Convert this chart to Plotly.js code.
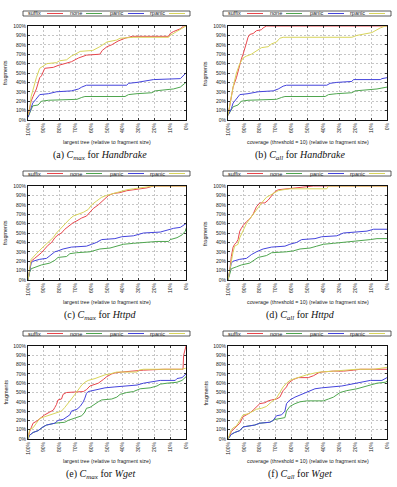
<!DOCTYPE html>
<html>
<head>
<meta charset="utf-8">
<script src="https://cdn.plot.ly/plotly-3.0.1.min.js"></script>
<style>
  html, body { margin: 0; padding: 0; background: #fff; }
  #chart { width: 397px; height: 487px; }
</style>
</head>
<body>
<div id="chart"></div>
<script>
// Cumulative share of fragments (y, %) against size threshold (x, % of fragment size).
// Each series is a list of [threshold %, fragments %] points.

const seriesNames = ['suffix', 'none', 'panic', 'rpanic'];
const xTicks = [100, 90, 80, 70, 60, 50, 40, 30, 20, 10, 0];
const yTicks = [0, 10, 20, 30, 40, 50, 60, 70, 80, 90, 100];

// (a) C_max, Handbrake
const cmaxHandbrakeSuffix = [[100,5],[98,20],[96.8,25],[94.7,33],[92.6,45],[91.5,47],[89.4,55],[84,56],[81,58],[75.6,61],[72.5,62],[68,66],[66,67],[63,69],[54.5,70],[53,74],[50,78],[47,80],[43,84],[38.6,87],[34,89],[11,89],[10,92],[8,94],[3.6,97],[1.5,100],[0,100]];
const cmaxHandbrakeNone = [[100,3],[98,12],[97,15],[93.6,16],[91.5,20],[87,21],[69,22],[66,24],[64,25],[38.6,25],[36.4,27],[31,28],[21.6,29],[19.5,31],[12,32],[8,33],[3.6,35],[0.4,40],[0,40]];
const cmaxHandbrakePanic = [[100,3],[98,13],[97,18],[95,22],[92.6,27],[87,28],[82,30],[72.5,31],[68,33],[66,35],[63,37],[37.5,37],[36.4,39],[31,40],[20.6,43],[3.6,44],[2.5,46],[0.4,50],[0,50]];
const cmaxHandbrakeRpanic = [[100,5],[99,10],[98,25],[96,38],[94.7,45],[92.6,55],[90.5,57],[88,60],[82,61],[80,63],[75.6,64],[72.5,68],[69,71],[67,73],[59,74],[54.5,78],[50,83],[44,85],[41.7,87],[33,88],[11,88],[10,90],[6,94],[1.5,98],[0,100]];

// (b) C_all, Handbrake
const callHandbrakeSuffix = [[100,5],[97.9,25],[96.8,35],[94.7,45],[93.7,52],[92.6,60],[91.6,65],[90.5,70],[89.5,75],[88.4,82],[87.4,88],[86.3,91],[84.2,92],[82.1,95],[79,96],[77.9,98],[75.8,100],[0,100]];
const callHandbrakeNone = [[100,5],[97.9,12],[96.8,14],[93.7,16],[91.6,20],[87.4,21],[69.5,22],[66.3,24],[64.2,25],[38.9,25],[36.8,27],[31.6,28],[22.1,29],[20,31],[10.5,32],[6.3,33],[3.2,34],[0,35]];
const callHandbrakePanic = [[100,5],[97.9,12],[96.8,18],[94.7,22],[92.6,27],[87.4,28],[81.1,30],[71.6,31],[68.4,33],[65.3,36],[63.2,37],[37.9,37],[35.8,39],[31.6,40],[22.1,41],[21.1,43],[4.2,43],[3.2,44],[0,45]];
const callHandbrakeRpanic = [[100,5],[97.9,25],[96.8,35],[94.7,50],[92.6,60],[90.5,66],[88.4,68],[85.3,70],[81.1,74],[78.9,77],[74.7,78],[72.6,81],[69.5,83],[67.4,87],[65.3,88],[22.1,88],[18.9,90],[12.6,92],[9.5,93],[6.3,96],[4.2,98],[1.1,100],[0,100]];

// (c) C_max, Httpd
const cmaxHttpdSuffix = [[100,0],[99,10],[98,20],[95.8,23],[93.6,26],[91.5,29],[89.4,33],[87.3,37],[85,40],[83,45],[81,48],[78.8,50],[76.7,54],[73.5,58],[71.4,61],[69,63],[66,66],[63,68],[60.8,72],[58.7,76],[55.5,80],[53.4,83],[51.3,86],[49,90],[46,92],[41.7,93],[37.5,95],[33,96],[29,97],[24.8,98],[20.6,100],[0,100]];
const cmaxHttpdNone = [[100,0],[99,8],[98,12],[94.7,14],[91.5,16],[86.2,18],[83,21],[81,24],[75.6,25],[73.5,28],[69.3,29],[60.8,30],[58.7,31],[54.5,33],[48.1,34],[43.8,36],[39.6,38],[33.3,39],[26.9,40],[18.4,41],[11,41],[10,43],[5.7,45],[2.5,48],[0.4,52],[0,55]];
const cmaxHttpdPanic = [[100,0],[99,10],[98,18],[96.8,20],[92.6,22],[88.3,23],[85,27],[83,30],[81,31],[77.8,33],[72.5,35],[63,36],[59.7,38],[56.6,40],[53.4,43],[45,44],[40.7,46],[33.3,47],[26.9,50],[16.3,51],[12,53],[7.8,55],[3.6,56],[1.5,58],[0,60]];
const cmaxHttpdRpanic = [[100,0],[99,10],[98,22],[94.7,28],[92.6,32],[90.5,35],[87.3,40],[84.1,45],[82,50],[79.9,54],[77.8,58],[75.6,62],[73.5,65],[71.4,68],[68.2,70],[65,72],[61.9,75],[59.7,80],[56.6,84],[53.4,88],[50.2,90],[46,92],[41.7,94],[37.5,96],[33.3,97],[29,98],[24.8,99],[20.6,100],[0,100]];

// (d) C_all, Httpd
const callHttpdSuffix = [[100,0],[98.9,10],[97.9,25],[96.8,35],[95.8,38],[94.7,40],[93.7,43],[92.6,52],[91.6,55],[90.5,58],[88.4,62],[86.3,65],[84.2,70],[82.1,78],[80,82],[76.8,82],[74.7,85],[72.6,90],[70.5,94],[68.4,96],[63.2,97],[58.9,98],[54.7,99],[46.3,100],[0,100]];
const callHttpdNone = [[100,0],[98.9,8],[97.9,12],[94.7,14],[91.6,16],[86.3,18],[83.2,22],[81.1,24],[75.8,26],[72.6,29],[63.2,30],[58.9,31],[54.7,33],[48.4,34],[44.2,36],[40,38],[33.7,39],[27.4,40],[18.9,41],[10.5,43],[6.3,44],[0,44]];
const callHttpdPanic = [[100,0],[98.9,10],[97.9,18],[96.8,20],[92.6,22],[88.4,23],[85.3,27],[82.1,30],[77.9,33],[72.6,35],[64.2,36],[61.1,38],[56.8,40],[53.7,43],[45.3,44],[41.1,46],[31.6,47],[27.4,50],[16.8,51],[12.6,52],[8.4,54],[0,54]];
const callHttpdRpanic = [[100,0],[98.9,10],[97.9,22],[96.8,30],[95.8,36],[93.7,38],[92.6,45],[90.5,52],[88.4,60],[86.3,65],[84.2,70],[82.1,75],[80,80],[77.9,84],[75.8,88],[73.7,90],[71.6,92],[68.4,95],[65.3,96],[61.1,97],[37.9,97],[36.8,100],[0,100]];

// (e) C_max, Wget
const cmaxWgetSuffix = [[100,0],[99,8],[98,12],[96.8,17],[94.7,19],[92.6,22],[91.5,24],[89.4,26],[86.2,29],[84,31],[83,34],[82,37],[81,42],[78.8,43],[77.8,48],[75.6,50],[65,51],[63,53],[60.8,57],[58.7,58],[55.5,60],[52.3,64],[50.2,67],[47,70],[45,71],[40.7,72],[34.3,73],[27,74],[14,75],[1.9,75],[1.5,90],[0.4,100],[0,100]];
const cmaxWgetNone = [[100,0],[99,4],[96.8,7],[93.6,9],[90.5,13],[88.3,15],[83,17],[76.7,18],[74.6,20],[71.4,22],[68.2,24],[66,25],[64,29],[63,33],[60.8,34],[57.6,38],[55.5,40],[53.4,42],[47,43],[43.8,45],[41.7,48],[37.5,50],[33.3,51],[29,54],[22.7,55],[18.4,57],[16.3,59],[12,60],[5.7,61],[2.5,63],[0.4,67],[0,67]];
const cmaxWgetPanic = [[100,0],[99,4],[96.8,7],[93.6,9],[90.5,13],[88.3,15],[83,17],[81,20],[77.8,21],[75.6,24],[73.5,26],[72.5,30],[69,32],[67,35],[65,40],[64,44],[63,49],[61.9,51],[58.7,52],[54.5,54],[51.3,55],[45,56],[37.5,57],[31,58],[26.9,60],[20.6,62],[16.3,63],[6.8,63],[5.7,65],[2.5,66],[0.4,70],[0,70]];
const cmaxWgetRpanic = [[100,0],[99,10],[96.8,12],[94.7,17],[92.6,22],[89.4,24],[86.2,26],[82,28],[78.8,30],[76.7,34],[74.6,38],[72.5,43],[70.3,48],[68.2,53],[66,58],[64,61],[61.9,63],[57.6,65],[54.5,67],[51.3,69],[48,70],[43.8,72],[31,72],[30,74],[26.9,75],[2.5,75],[0.4,76],[0,76]];

// (f) C_all, Wget
const callWgetSuffix = [[100,0],[97.9,8],[96.8,10],[94.7,13],[92.6,17],[90.5,24],[88.4,26],[86.3,28],[84.2,31],[82.1,35],[80,38],[76.8,39],[74.7,41],[72.6,42],[69.5,43],[67.4,45],[65.3,52],[63.2,56],[62.1,60],[58.9,64],[55.8,66],[49.5,66],[46.3,68],[43.2,71],[41.1,72],[33.7,73],[27.4,73],[21.1,74],[16.8,75],[0,75]];
const callWgetNone = [[100,0],[97.9,5],[95.8,7],[92.6,9],[90.5,13],[87.4,14],[83.2,15],[80,17],[73.7,18],[70.5,21],[67.4,22],[64.2,23],[63.2,30],[61.1,35],[57.9,38],[54.7,40],[50.5,41],[40,41],[36.8,43],[33.7,45],[29.5,50],[25.3,52],[18.9,54],[14.7,56],[10.5,58],[6.3,60],[1.1,61],[0,62]];
const callWgetPanic = [[100,0],[97.9,5],[95.8,7],[92.6,9],[90.5,13],[87.4,14],[83.2,15],[80,17],[73.7,18],[71.6,20],[69.5,25],[66.3,26],[64.2,30],[63.2,38],[61.1,42],[57.9,45],[53.7,48],[50.5,51],[45.3,54],[41.1,55],[33.7,56],[28.4,57],[25.3,58],[20,60],[16.8,61],[10.5,63],[3.2,63],[1.1,65],[0,66]];
const callWgetRpanic = [[100,0],[97.9,10],[96.8,12],[94.7,14],[92.6,20],[90.5,26],[87.4,27],[84.2,30],[82.1,32],[78.9,33],[75.8,35],[72.6,40],[69.5,44],[67.4,50],[65.3,56],[63.2,60],[61.1,63],[57.9,65],[54.7,67],[50.5,69],[45.3,71],[42.1,72],[33.7,73],[25.3,74],[18.9,75],[8.4,75],[3.2,76],[0,77]];

const xTitleMax = 'largest tree (relative to fragment size)';
const xTitleAll = 'coverage (threshold = 10) (relative to fragment size)';
const yTitle = 'fragments';

const panels = [
  { series: [cmaxHandbrakeSuffix, cmaxHandbrakeNone, cmaxHandbrakePanic, cmaxHandbrakeRpanic], xTitle: xTitleMax, caption: '(a) <i>C<sub>max</sub></i> for <i>Handbrake</i>' },
  { series: [callHandbrakeSuffix, callHandbrakeNone, callHandbrakePanic, callHandbrakeRpanic], xTitle: xTitleAll, caption: '(b) <i>C<sub>all</sub></i> for <i>Handbrake</i>' },
  { series: [cmaxHttpdSuffix, cmaxHttpdNone, cmaxHttpdPanic, cmaxHttpdRpanic], xTitle: xTitleMax, caption: '(c) <i>C<sub>max</sub></i> for <i>Httpd</i>' },
  { series: [callHttpdSuffix, callHttpdNone, callHttpdPanic, callHttpdRpanic], xTitle: xTitleAll, caption: '(d) <i>C<sub>all</sub></i> for <i>Httpd</i>' },
  { series: [cmaxWgetSuffix, cmaxWgetNone, cmaxWgetPanic, cmaxWgetRpanic], xTitle: xTitleMax, caption: '(e) <i>C<sub>max</sub></i> for <i>Wget</i>' },
  { series: [callWgetSuffix, callWgetNone, callWgetPanic, callWgetRpanic], xTitle: xTitleAll, caption: '(f) <i>C<sub>all</sub></i> for <i>Wget</i>' }
];

const colors = ['#e8464c', '#4fa64f', '#4444dc', '#d8d45a'];

// Page geometry in pixels
const W = 397, H = 487;
const colLeft = [28, 228], colRight = [186, 387];
const rowTop = [26, 186, 346], rowBottom = [120, 280, 439];
const px = x => x / W;
const py = y => 1 - y / H;

const sans = 'Liberation Sans, Arial, sans-serif';
const serif = 'Liberation Serif, Times New Roman, serif';

const traces = [];
const layout = {
  width: W, height: H,
  margin: { l: 0, r: 0, t: 0, b: 0 },
  paper_bgcolor: '#ffffff',
  plot_bgcolor: '#ffffff',
  showlegend: false,
  shapes: [],
  annotations: []
};

const axisCommon = {
  showline: true, linecolor: '#111', linewidth: 1, mirror: 'ticks',
  ticks: 'inside', ticklen: 2, tickcolor: '#111', tickwidth: 0.8,
  showgrid: true, gridcolor: '#a0a0a0', gridwidth: 0.6, griddash: '2px,2px',
  zeroline: false, fixedrange: true,
  tickfont: { family: sans, size: 5, color: '#222' }
};

panels.forEach((p, i) => {
  const k = i + 1;
  const col = i % 2, row = Math.floor(i / 2);
  const L = colLeft[col], R = colRight[col], T = rowTop[row], B = rowBottom[row];
  const xa = k === 1 ? 'x' : 'x' + k;
  const ya = k === 1 ? 'y' : 'y' + k;

  layout['xaxis' + (k === 1 ? '' : k)] = Object.assign({}, axisCommon, {
    domain: [px(L), px(R)], anchor: ya,
    range: [100, 0], tickmode: 'array', tickvals: xTicks,
    ticktext: xTicks.map(v => v + '%'), tickangle: -90
  });
  layout['yaxis' + (k === 1 ? '' : k)] = Object.assign({}, axisCommon, {
    domain: [py(B), py(T)], anchor: xa,
    range: [0, 100], tickmode: 'array', tickvals: yTicks,
    ticktext: yTicks.map(v => v + '%')
  });

  p.series.forEach((pts, s) => {
    traces.push({
      x: pts.map(d => d[0]), y: pts.map(d => d[1]),
      type: 'scatter', mode: 'lines', name: seriesNames[s],
      line: { color: colors[s], width: 1 },
      xaxis: xa, yaxis: ya, hoverinfo: 'skip', cliponaxis: true
    });
  });

  // key box above each plot: label followed by a line sample
  const boxTop = T - 15, boxBot = T - 10, mid = (boxTop + boxBot) / 2;
  layout.shapes.push({
    type: 'rect', xref: 'paper', yref: 'paper',
    x0: px(L - 5), x1: px(R + 4), y0: py(boxBot), y1: py(boxTop),
    line: { color: '#333', width: 0.8 }, fillcolor: 'rgba(0,0,0,0)'
  });
  const textEnd = [15, 56, 97, 139];
  const sampleStart = [19, 58, 100, 141];
  seriesNames.forEach((nm, s) => {
    layout.annotations.push({
      xref: 'paper', yref: 'paper', x: px(L + textEnd[s]), y: py(mid),
      xanchor: 'right', yanchor: 'middle', showarrow: false,
      text: nm, font: { family: sans, size: 5.5, color: '#222' }
    });
    layout.shapes.push({
      type: 'line', xref: 'paper', yref: 'paper',
      x0: px(L + sampleStart[s]), x1: px(L + sampleStart[s] + 16),
      y0: py(mid), y1: py(mid),
      line: { color: colors[s], width: 1 }
    });
  });

  // y axis title
  layout.annotations.push({
    xref: 'paper', yref: 'paper', x: px(col === 0 ? 5 : 205), y: py((T + B) / 2),
    xanchor: 'center', yanchor: 'middle', showarrow: false, textangle: -90,
    text: yTitle, font: { family: sans, size: 5.5, color: '#222' }
  });
  // x axis title
  layout.annotations.push({
    xref: 'paper', yref: 'paper', x: px((L + R) / 2), y: py(B + 22),
    xanchor: 'center', yanchor: 'middle', showarrow: false,
    text: p.xTitle, font: { family: sans, size: 5.3, color: '#222' }
  });
  // sub-figure caption
  layout.annotations.push({
    xref: 'paper', yref: 'paper', x: px(col === 0 ? 100 : 300), y: py(B + 35),
    xanchor: 'center', yanchor: 'middle', showarrow: false,
    text: p.caption, font: { family: serif, size: 10, color: '#111' }
  });
});

Plotly.newPlot('chart', traces, layout, { staticPlot: true, displayModeBar: false });
</script>
</body>
</html>
